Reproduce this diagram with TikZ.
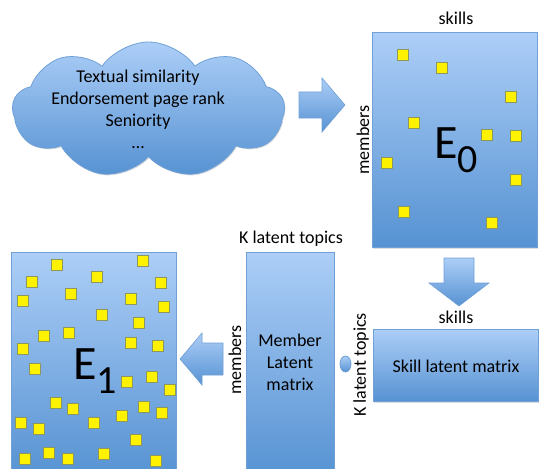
\documentclass[tikz,border=0pt]{standalone}
\usepackage{fontspec}
\setmainfont{Carlito}
\usetikzlibrary{shapes.symbols,shapes.geometric,shadows}
\definecolor{btop}{RGB}{172,206,247}
\definecolor{bbot}{RGB}{86,146,210}
\definecolor{bline}{RGB}{112,160,214}
\definecolor{sqline}{RGB}{140,150,95}
\begin{document}
\begin{tikzpicture}[x=1pt,y=-1pt,
  panel/.style={draw=bline, line width=0.8pt, top color=btop, bottom color=bbot},
  boxshadow/.style={drop shadow={shadow xshift=1pt, shadow yshift=-1.2pt, opacity=0.25}},
  mbox/.style={panel, boxshadow, anchor=north west, inner sep=0pt},
  sq/.style={draw=sqline, fill=yellow, line width=0.5pt, minimum size=11pt, inner sep=0pt,
    drop shadow={shadow xshift=0.8pt, shadow yshift=-0.8pt, opacity=0.35}},
  lbl/.style={font=\fontsize{18}{22}\selectfont, text=black, inner sep=0pt, align=center},
  bigE/.style={font=\fontsize{48}{48}\selectfont, inner sep=0pt, anchor=base west},
  blockarrow/.style={draw=bline, line width=0.6pt, top color=btop, bottom color=bbot}
]
\useasboundingbox (0,0) rectangle (540,468);

% cloud
\node[cloud, cloud puffs=9, cloud puff arc=110, cloud ignores aspect,
      minimum width=272pt, minimum height=136pt, panel, boxshadow] (cloud) at (148.5,110) {};
\node[lbl] (cloudtxt) at (138,109) {Textual similarity\\Endorsement page rank\\Seniority\\…};

% right block arrow
\path[blockarrow] (299,92) -- (322,92) -- (322,78) -- (345,105) -- (322,132) -- (322,118) -- (299,118) -- cycle;

% E0 matrix
\node[mbox, minimum width=165pt, minimum height=215pt] (E0) at (372,32) {};
\node[lbl, anchor=south] (skillsA) at (456,25) {skills};
\node[lbl, rotate=90] (membersA) at (363,140) {members};
\node[bigE] (E0lab) at (434,158) {E\raisebox{-14pt}{\fontsize{40}{40}\selectfont 0}};
\foreach \x/\y [count=\i] in {403/55,442/68,511/97,414/123,487/135,516/136,387/163,516/180,404/212,492/223}
  \node[sq] (a\i) at (\x,\y) {};

% down block arrow
\path[blockarrow] (444,258) -- (474,258) -- (474,283) -- (489,283) -- (459,306) -- (429,283) -- (444,283) -- cycle;

% skill latent matrix
\node[lbl, anchor=south] (skillsB) at (456,324) {skills};
\node[mbox, minimum width=165pt, minimum height=72pt] (skill) at (373,329) {};
\node[lbl] (skilltxt) at (456,366) {Skill latent matrix};
\node[lbl, rotate=90] (ktopicsB) at (361,365) {K latent topics};

% dot (product)
\node[ellipse, panel, minimum width=11pt, minimum height=16pt, inner sep=0pt] (dot) at (345.5,364) {};

% member latent matrix
\node[lbl, anchor=south] (ktopicsA) at (291,247) {K latent topics};
\node[mbox, minimum width=88pt, minimum height=225pt] (member) at (246,252) {};
\node[lbl] (membertxt) at (290,362) {Member\\Latent\\matrix};
\node[lbl, rotate=90] (membersB) at (235,360) {members};

% left block arrow
\path[blockarrow] (223,343) -- (202,343) -- (202,333) -- (180,359) -- (202,385) -- (202,375) -- (223,375) -- cycle;

% E1 matrix
\node[mbox, minimum width=165pt, minimum height=225pt] (E1) at (11,252) {};
\node[bigE] (E1lab) at (73,379) {E\raisebox{-14pt}{\fontsize{40}{40}\selectfont 1}};
\foreach \x/\y [count=\i] in {57/265,143/261,32/282,97/277,161/283,71/294,23/301,131/299,164/307,102/315,
  139/323,44/336,69/333,131/343,158/346,23/349,35/369,127/382,152/377,170/390,
  56/403,73/409,144/407,162/413,122/416,21/423,39/429,94/423,136/440,25/459,
  49/453,68/459,104/454,156/461}
  \node[sq] (b\i) at (\x,\y) {};
\end{tikzpicture}
\end{document}
